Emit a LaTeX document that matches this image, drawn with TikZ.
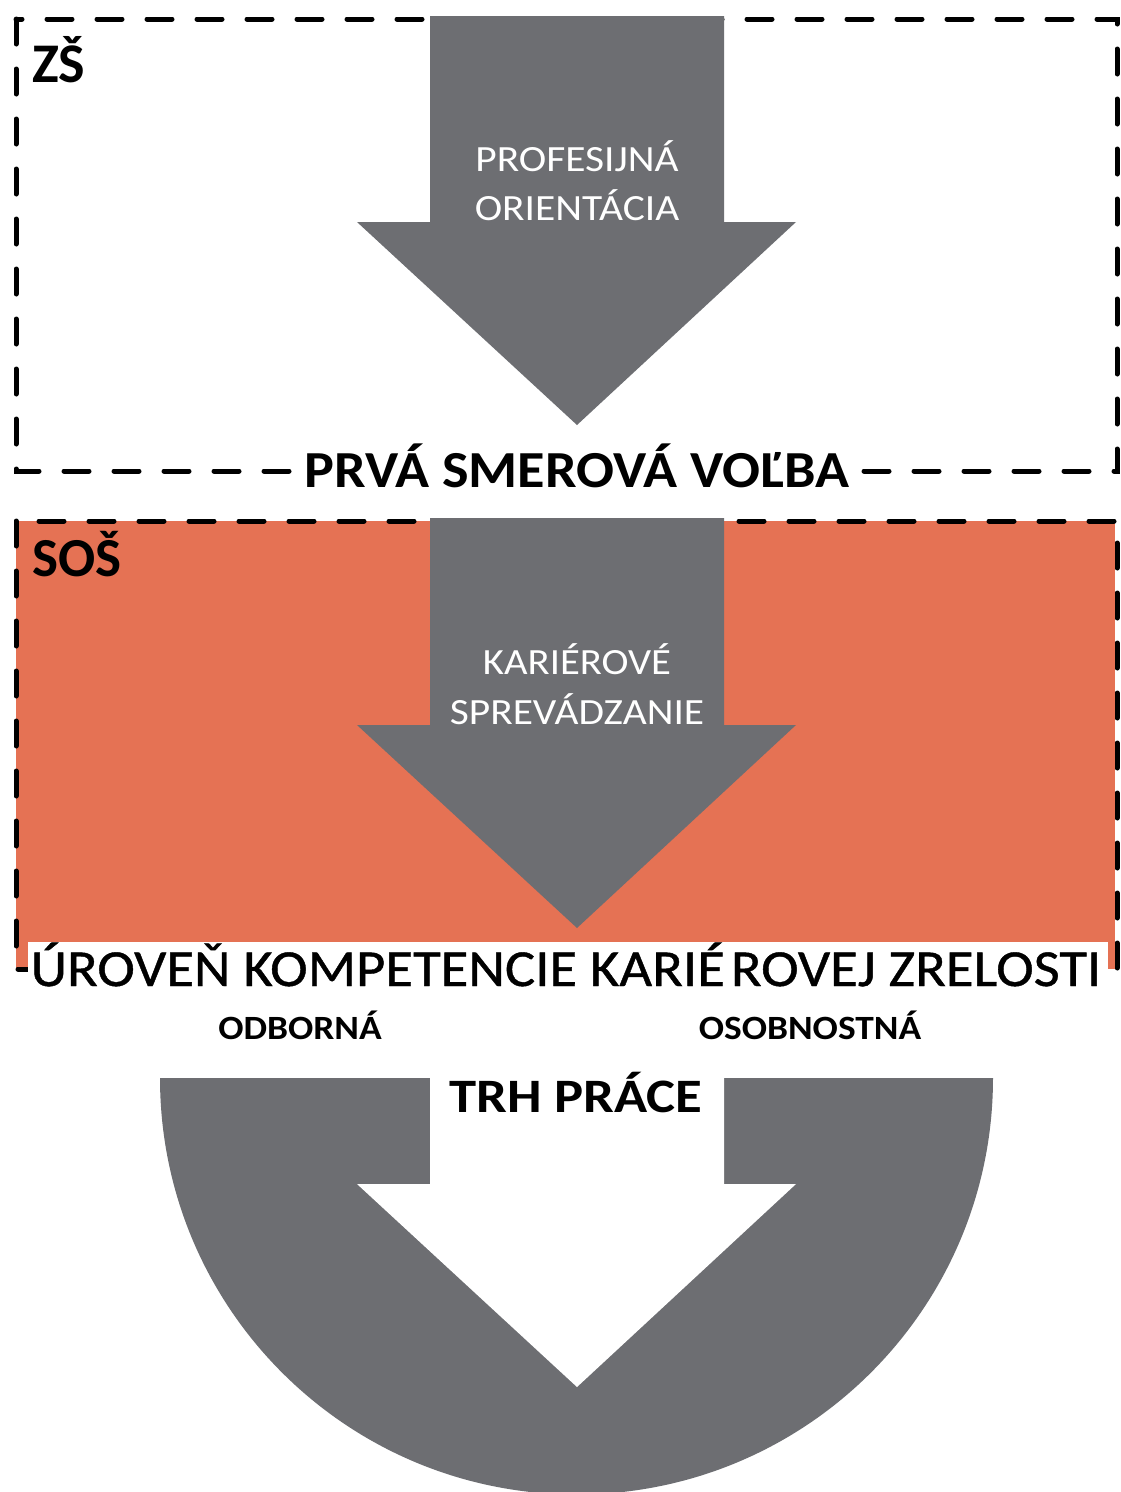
\documentclass[tikz,border=0pt]{standalone}
\usepackage{fontspec}
\setmainfont{Carlito}
\definecolor{arrowgray}{RGB}{109,110,114}
\definecolor{sosorange}{RGB}{229,114,84}
\newcommand{\fs}[2]{\fontsize{#1pt}{#1pt}\selectfont\addfontfeature{FakeStretch=#2}}
\begin{document}
\begin{tikzpicture}[x=1pt,y=-1pt,
  dashbox/.style={line width=5pt, dash pattern=on 25pt off 25pt, line cap=round},
  grayarrow/.style={fill=arrowgray, draw=none},
  whitetxt/.style={text=white, inner sep=0pt, anchor=base},
  blacktxt/.style={text=black, inner sep=0pt, anchor=base}]
\useasboundingbox (0,0) rectangle (1120,1492);
\fill[white] (0,0) rectangle (1120,1492);

% ZS box
\draw[dashbox] (16,19) rectangle (1117,471);
\fill[grayarrow] (430,16) -- (724,16) -- (724,222) -- (796,222) -- (577,425) -- (357,222) -- (430,222) -- cycle;
\node[blacktxt, anchor=base west, font=\bfseries\fs{56}{1.0}] (zs) at (32,82) {ZŠ};
\node[whitetxt, font=\fs{37}{1.12}] (prof) at (577,171) {PROFESIJNÁ};
\node[whitetxt, font=\fs{37}{1.12}] (orient) at (577,220) {ORIENTÁCIA};
\node[blacktxt, fill=white, inner xsep=4pt, inner ysep=4pt, font=\bfseries\fs{52}{1.08}] (prva) at (577,487) {PRVÁ SMEROVÁ VOĽBA};

% SOS box
\fill[sosorange] (16,521) rectangle (1115,969);
\draw[dashbox] (16,521) rectangle (1117,969);
\fill[grayarrow] (430,518) -- (724,518) -- (724,725) -- (796,725) -- (577,928) -- (357,725) -- (430,725) -- cycle;
\node[blacktxt, anchor=base west, font=\bfseries\fs{55}{1.0}] (sos) at (32,576) {SOŠ};
\node[whitetxt, font=\fs{37}{1.1}] (kar) at (577,674) {KARIÉROVÉ};
\node[whitetxt, font=\fs{37}{1.12}] (sprev) at (577,724) {SPREVÁDZANIE};
\fill[white] (28,942) rectangle (1108,1000);
\node[blacktxt, font=\fs{52}{1.09}\addfontfeature{FakeBold=0.8}] (uroven) at (566,986) {ÚROVEŇ KOMPETENCIE KARIÉ\hspace{6pt}ROVEJ ZRELOSTI};

\node[blacktxt, font=\bfseries\fs{34}{1.1}] (odb) at (300,1039) {ODBORNÁ};
\node[blacktxt, font=\bfseries\fs{34}{1.1}] (osob) at (810,1039) {OSOBNOSTNÁ};

% bottom
\fill[arrowgray] (160,1078) -- (993,1078) arc[start angle=0, end angle=-180, radius=416.5pt] -- cycle;
\fill[white] (430,1076) -- (724,1076) -- (724,1184) -- (796,1184) -- (577,1387) -- (357,1184) -- (430,1184) -- cycle;
\node[blacktxt, font=\bfseries\fs{48}{1.14}] (trh) at (576,1112) {TRH PRÁCE};
\end{tikzpicture}
\end{document}
